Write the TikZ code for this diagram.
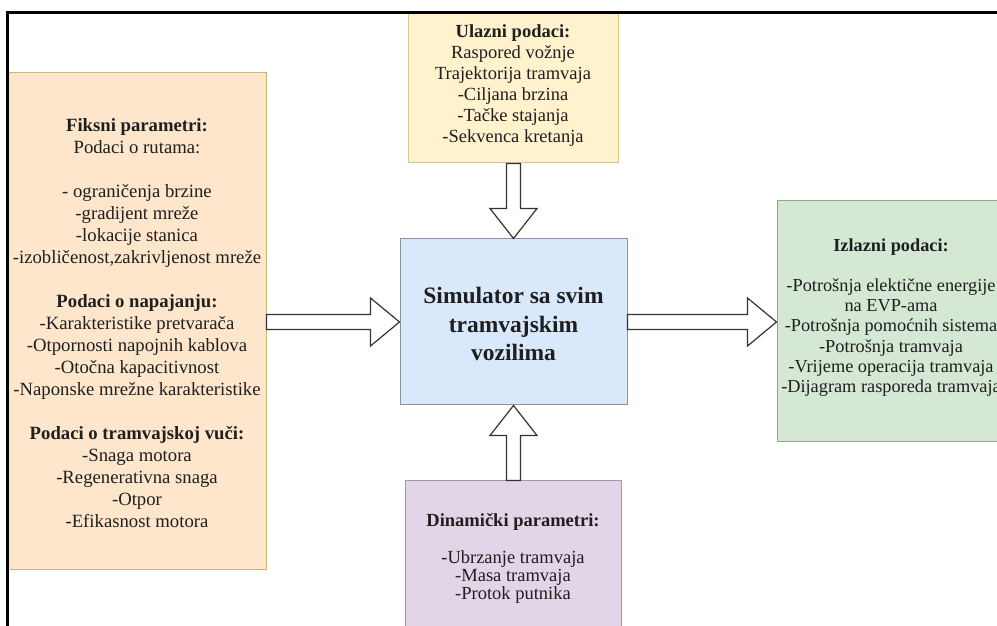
\documentclass[tikz,border=0pt]{standalone}
\usepackage{fontspec}
\setmainfont{Liberation Serif}
\usetikzlibrary{calc}
\definecolor{fixfill}{HTML}{FDE6CC}
\definecolor{fixdraw}{HTML}{CDB86E}
\definecolor{infill}{HTML}{FFF2CC}
\definecolor{indraw}{HTML}{D6C58A}
\definecolor{simfill}{HTML}{DAE8FC}
\definecolor{simdraw}{HTML}{8C939C}
\definecolor{outfill}{HTML}{D5E8D4}
\definecolor{outdraw}{HTML}{93A88E}
\definecolor{dynfill}{HTML}{E1D5E7}
\definecolor{dyndraw}{HTML}{A09AA4}
\begin{document}
\begin{tikzpicture}[x=1pt,y=1pt,
  box/.style={draw, line width=1pt, inner sep=0pt},
  txt/.style={align=center, inner sep=0pt, text=black!88},
  barrow/.style={draw=black!80, fill=white, line width=1.2pt, line join=miter}]
\useasboundingbox (0,0) rectangle (997,626);
\clip (0,0) rectangle (997,626);
% boxes
\node[box, fill=fixfill, draw=fixdraw, minimum width=258pt, minimum height=497pt] (fix) at (137,304.5) {};
\node[box, fill=infill, draw=indraw, minimum width=210pt, minimum height=150pt] (in) at (513,538) {};
\node[box, fill=simfill, draw=simdraw, minimum width=227pt, minimum height=166pt] (sim) at (513.5,304) {};
\node[box, fill=outfill, draw=outdraw, minimum width=228pt, minimum height=241pt] (out) at (891,304.5) {};
\node[box, fill=dynfill, draw=dyndraw, minimum width=216pt, minimum height=159pt] (dyn) at (513,65.5) {};
% texts
\node[txt, font=\fontsize{18.7}{22}\selectfont] (fixt) at (fix.center) [yshift=-2pt] {\textbf{Fiksni parametri:}\\Podaci o rutama:\\[22pt]- ograničenja brzine\\-gradijent mreže\\-lokacije stanica\\-izobličenost,zakrivljenost mreže\\[22pt]\textbf{Podaci o napajanju:}\\-Karakteristike pretvarača\\-Otpornosti napojnih kablova\\-Otočna kapacitivnost\\-Naponske mrežne karakteristike\\[22pt]\textbf{Podaci o tramvajskoj vuči:}\\-Snaga motora\\-Regenerativna snaga\\-Otpor\\-Efikasnost motora};
\node[txt, font=\fontsize{18.5}{21}\selectfont] (int) at (in.center) [yshift=2pt] {\textbf{Ulazni podaci:}\\Raspored vožnje\\Trajektorija tramvaja\\-Ciljana brzina\\-Tačke stajanja\\-Sekvenca kretanja};
\node[txt, font=\fontsize{23.5}{28.5}\selectfont\bfseries] (simt) at (sim.center) [yshift=-2pt] {Simulator sa svim\\tramvajskim\\vozilima};
\node[txt, font=\fontsize{18.3}{20.2}\selectfont] (outt) at (out.center) [yshift=4pt] {\textbf{Izlazni podaci:}\\[20.2pt]-Potrošnja elektične energije\\na EVP-ama\\-Potrošnja pomoćnih sistema\\-Potrošnja tramvaja\\-Vrijeme operacija tramvaja\\-Dijagram rasporeda tramvaja};
\node[txt, font=\fontsize{18.5}{18.3}\selectfont] (dynt) at (dyn.center) [yshift=2pt] {\textbf{Dinamički parametri:}\\[18.3pt]-Ubrzanje tramvaja\\-Masa tramvaja\\-Protok putnika};
% block arrows
\draw[barrow] let \p1=(in.south), \p2=(sim.north) in
  (\x2-7,\y1) -- (\x2-7,\y2+30) -- (\x2-23.5,\y2+30) -- (\x2,\y2) -- (\x2+23.5,\y2+30) -- (\x2+7,\y2+30) -- (\x2+7,\y1) -- cycle;
\draw[barrow] let \p1=(dyn.north), \p2=(sim.south) in
  (\x2-7,\y1) -- (\x2-7,\y2-30) -- (\x2-23.5,\y2-30) -- (\x2,\y2) -- (\x2+23.5,\y2-30) -- (\x2+7,\y2-30) -- (\x2+7,\y1) -- cycle;
\draw[barrow] let \p1=(fix.east), \p2=(sim.west) in
  (\x1,\y2-7.5) -- (\x2-29,\y2-7.5) -- (\x2-29,\y2-24) -- (\x2,\y2) -- (\x2-29,\y2+24) -- (\x2-29,\y2+7.5) -- (\x1,\y2+7.5) -- cycle;
\draw[barrow] let \p1=(sim.east), \p2=(out.west) in
  (\x1,\y1-7.5) -- (\x2-29,\y1-7.5) -- (\x2-29,\y1-24) -- (\x2,\y1) -- (\x2-29,\y1+24) -- (\x2-29,\y1+7.5) -- (\x1,\y1+7.5) -- cycle;
% frame
\draw[line width=2.2pt, black] (7.5,-10) -- (7.5,613.5) -- (1010,613.5);
\end{tikzpicture}
\end{document}
